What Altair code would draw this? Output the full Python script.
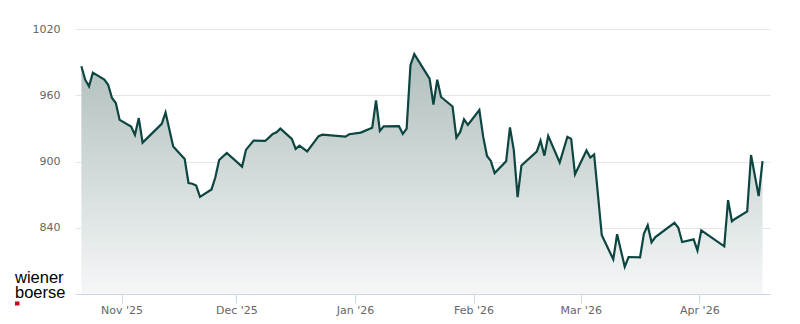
import altair as alt
import pandas as pd

dates = [
    "2025-10-21", "2025-10-22", "2025-10-23", "2025-10-24", "2025-10-27", "2025-10-28", "2025-10-29", "2025-10-30", "2025-10-31",
    "2025-11-03", "2025-11-04", "2025-11-05", "2025-11-06", "2025-11-11", "2025-11-12", "2025-11-14", "2025-11-17", "2025-11-18",
    "2025-11-19", "2025-11-20", "2025-11-21", "2025-11-24", "2025-11-25", "2025-11-26", "2025-11-28",
    "2025-12-02", "2025-12-03", "2025-12-05", "2025-12-08", "2025-12-09", "2025-12-10", "2025-12-11", "2025-12-12", "2025-12-15",
    "2025-12-16", "2025-12-17", "2025-12-19", "2025-12-22", "2025-12-23", "2025-12-29", "2025-12-30",
    "2026-01-02", "2026-01-05", "2026-01-06", "2026-01-07", "2026-01-08", "2026-01-12", "2026-01-13", "2026-01-14", "2026-01-15",
    "2026-01-16", "2026-01-20", "2026-01-21", "2026-01-22", "2026-01-23", "2026-01-26", "2026-01-27", "2026-01-28", "2026-01-29",
    "2026-01-30",
    "2026-02-02", "2026-02-03", "2026-02-04", "2026-02-05", "2026-02-06", "2026-02-09", "2026-02-10", "2026-02-11", "2026-02-12",
    "2026-02-13", "2026-02-17", "2026-02-18", "2026-02-19", "2026-02-20", "2026-02-23", "2026-02-25", "2026-02-26", "2026-02-27",
    "2026-03-02", "2026-03-03", "2026-03-04", "2026-03-06", "2026-03-09", "2026-03-10", "2026-03-12", "2026-03-13", "2026-03-16",
    "2026-03-17", "2026-03-18", "2026-03-19", "2026-03-20", "2026-03-25", "2026-03-26", "2026-03-27", "2026-03-30", "2026-03-31",
    "2026-04-01", "2026-04-07", "2026-04-08", "2026-04-09", "2026-04-10", "2026-04-13", "2026-04-14", "2026-04-16", "2026-04-17",
]

values = [
    986.2, 974.1, 968.0, 980.5, 974.1, 969.5, 957.5, 952.9, 937.7,
    931.6, 924.1, 939.3, 917.1, 934.1, 944.4, 913.5, 902.3, 880.5,
    879.9, 878.2, 868.0, 874.7, 885.5, 901.4, 907.7,
    895.3, 910.5, 918.9, 918.6, 921.6, 925.0, 926.4, 929.8, 920.5,
    911.4, 914.4, 909.1, 923.0, 924.3, 922.5, 924.7,
    926.2, 930.5, 955.3, 927.7, 931.8, 932.0, 925.0, 929.8, 987.3,
    997.3, 975.0, 951.6, 974.1, 958.4, 949.8, 921.6, 926.8, 938.2,
    933.2,
    946.6, 922.5, 905.0, 900.5, 889.5, 900.2, 930.9, 910.5, 867.7,
    896.4, 908.9, 918.9, 905.3, 923.2, 899.1, 922.3, 920.5, 888.4,
    910.0, 903.6, 906.4, 833.2, 811.4, 834.1, 804.7, 813.5, 813.2,
    834.4, 842.3, 826.8, 831.6, 844.4, 840.0, 827.1, 829.5, 819.5,
    837.7, 823.2, 865.0, 845.9, 848.4, 854.8, 905.9, 868.6, 900.3,
]

y_min, y_max = 780, 1020
y_ticks = [840, 900, 960, 1020]
logo_lines = ["wiener", "boerse"]

LINE = "#0d4540"

df = pd.DataFrame({
    "date": pd.to_datetime(dates) + pd.Timedelta(hours=12),  # closing time of day
    "value": values,
})

x_enc = alt.X(
    "date:T",
    scale=alt.Scale(domain=[
        alt.DateTime(year=2025, month=10, date=19, hours=20),
        alt.DateTime(year=2026, month=4, date=19, hours=11),
    ]),
    axis=alt.Axis(
        format="%b '%y", tickCount={"interval": "month", "step": 1}, grid=False,
        domainColor="#ccd6eb", tickColor="#ccd6eb", tickSize=9,
        labelColor="#666666", labelFontSize=11, labelFont="DejaVu Sans",
        labelPadding=1, title=None, zindex=1,
    ),
)
y_enc = alt.Y(
    "value:Q",
    scale=alt.Scale(domain=[y_min, y_max], nice=False, zero=False),
    axis=alt.Axis(
        values=y_ticks, format="d", grid=True, gridColor="#e6e6e6", domain=False, ticks=False,
        labelColor="#666666", labelFontSize=11, labelFont="DejaVu Sans",
        labelPadding=15, title=None,
    ),
)

gradient = alt.Gradient(
    gradient="linear",
    stops=[alt.GradientStop(color="#f5f7f7", offset=0),
           alt.GradientStop(color="#afbebc", offset=1)],
    x1=1, x2=1, y1=1, y2=0,
)

base = alt.Chart(df)
area = base.mark_area(color=gradient, interpolate="linear").encode(
    x=x_enc, y=y_enc, y2=alt.datum(y_min)
)
line = base.mark_line(color=LINE, strokeWidth=2.2, interpolate="linear").encode(x="date:T", y="value:Q")

logo1 = alt.Chart(pd.DataFrame({"t": [logo_lines[0]]})).mark_text(
    align="left", baseline="alphabetic", font="Liberation Sans", fontSize=16.5, color="#000000"
).encode(text="t:N", x=alt.value(-60), y=alt.value(254))
logo2 = alt.Chart(pd.DataFrame({"t": [logo_lines[1]]})).mark_text(
    align="left", baseline="alphabetic", font="Liberation Sans", fontSize=16.5, color="#000000"
).encode(text="t:N", x=alt.value(-60), y=alt.value(268.5))
logo_sq = alt.Chart(pd.DataFrame({"t": [0]})).mark_rect(color="#d0021b").encode(
    x=alt.value(-60), x2=alt.value(-55.5), y=alt.value(272.5), y2=alt.value(276.5)
)

chart = alt.layer(area, line, logo1, logo2, logo_sq).properties(
    width=695, height=265,
    autosize=alt.AutoSizeParams(type="none"),
    padding={"left": 75, "top": 29, "right": 30, "bottom": 30},
).configure_view(stroke=None)

chart.save("out.html", embed_options={"renderer": "svg", "actions": False})
